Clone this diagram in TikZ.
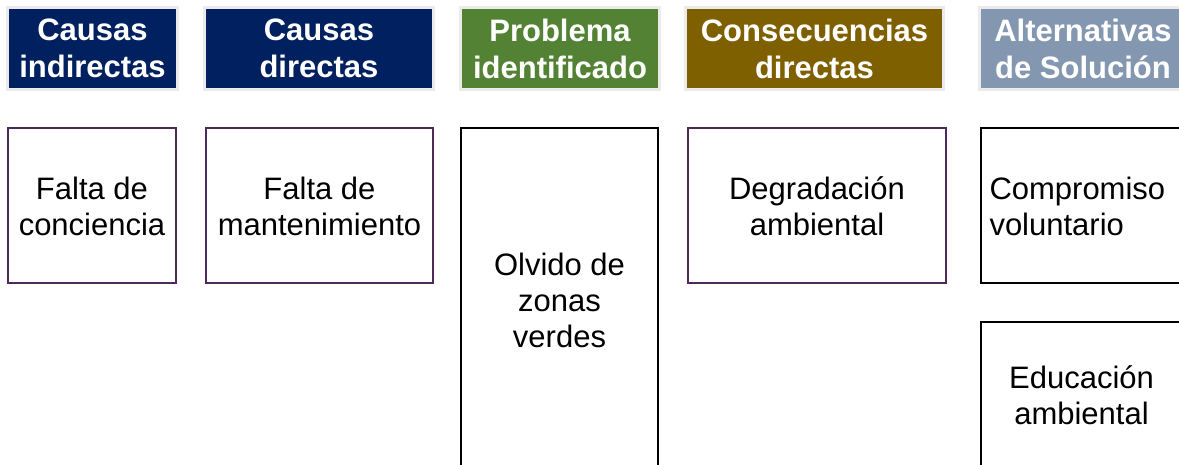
\documentclass[tikz,border=0pt]{standalone}
\usepackage{fontspec}
\setmainfont{Liberation Sans}
\definecolor{navy}{HTML}{002060}
\definecolor{leaf}{HTML}{548235}
\definecolor{olivebrown}{HTML}{7F6000}
\definecolor{slate}{HTML}{8497B0}
\definecolor{plum}{HTML}{4E2A5C}
\definecolor{frame}{HTML}{EBEBEB}
\tikzset{
  head/.style={draw=frame, line width=3pt, inner sep=0pt, text=white, align=center,
    font=\bfseries\fontsize{31}{37}\selectfont, minimum height=82pt},
  cell/.style={line width=2pt, inner sep=0pt, align=center, text=black,
    font=\fontsize{31}{36}\selectfont},
  plumcell/.style={cell, draw=plum},
  blackcell/.style={cell, draw=black},
}
\begin{document}
\begin{tikzpicture}[x=1pt, y=-1pt]
\useasboundingbox (0,0) rectangle (1179,465);
\clip (0,0) rectangle (1179,465);
% headers
\node[head, fill=navy, minimum width=170pt] (h1) at (92.5,48.5) {Causas\\indirectas};
\node[head, fill=navy, minimum width=229pt] (h2) at (319,48.5) {Causas\\directas};
\node[head, fill=leaf, minimum width=199pt] (h3) at (560,48.5) {Problema\\identificado};
\node[head, fill=olivebrown, minimum width=258pt] (h4) at (814.5,48.5) {Consecuencias\\directas};
\node[head, fill=slate, minimum width=207pt] (h5) at (1083,48.5) {Alternativas\\de Solución};
% cells
\node[plumcell, minimum width=168pt, minimum height=155pt] (c1) at (92,206) {Falta de\\conciencia};
\node[plumcell, minimum width=227pt, minimum height=155pt] (c2) at (319.5,206) {Falta de\\mantenimiento};
\node[blackcell, minimum width=197pt, minimum height=344pt] (c3) at (559.5,300) {Olvido de\\zonas\\verdes};
\node[plumcell, minimum width=258pt, minimum height=155pt] (c4) at (817,206) {Degradación\\ambiental};
\node[blackcell, minimum width=201pt, minimum height=155pt, text width=184pt, inner xsep=8.5pt, align=left] (c5) at (1081.5,206) {Compromiso\\voluntario};
\node[blackcell, minimum width=201pt, minimum height=146pt] (c6) at (1081.5,395) {Educación\\ambiental};
\end{tikzpicture}
\end{document}
